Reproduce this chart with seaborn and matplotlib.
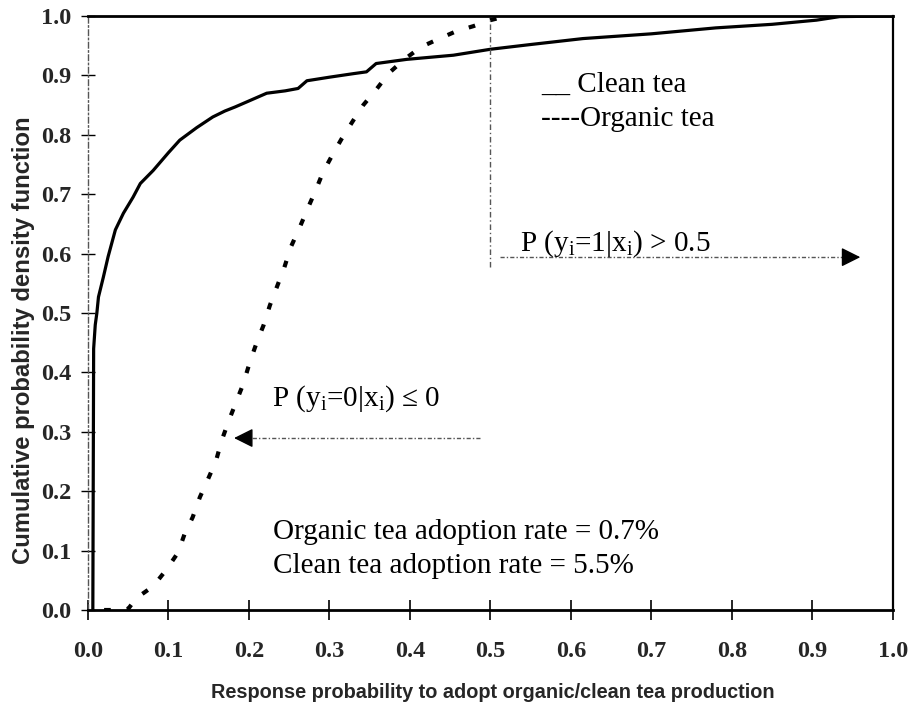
import matplotlib
matplotlib.use("Agg")
import matplotlib.pyplot as plt
import seaborn as sns
import pandas as pd
from matplotlib import font_manager as fm

# ---------------- data ----------------
clean_x = [0.006, 0.007, 0.009, 0.011, 0.013, 0.019, 0.025, 0.034, 0.044, 0.056,
           0.065, 0.081, 0.100, 0.114, 0.135, 0.155, 0.170, 0.183, 0.200, 0.222,
           0.245, 0.261, 0.272, 0.300, 0.330, 0.346, 0.358, 0.396, 0.454, 0.500,
           0.550, 0.615, 0.700, 0.780, 0.850, 0.905, 0.934, 1.000]
clean_y = [0.000, 0.440, 0.480, 0.500, 0.527, 0.560, 0.595, 0.640, 0.668, 0.695,
           0.718, 0.740, 0.770, 0.791, 0.812, 0.830, 0.840, 0.847, 0.857, 0.870,
           0.874, 0.878, 0.891, 0.897, 0.903, 0.906, 0.920, 0.927, 0.934, 0.944,
           0.952, 0.962, 0.970, 0.980, 0.986, 0.993, 0.999, 1.000]

organic_x = [0.020, 0.035, 0.050, 0.060, 0.081, 0.098, 0.112, 0.120, 0.130, 0.139,
             0.149, 0.159, 0.166, 0.175, 0.184, 0.193, 0.201, 0.209, 0.218, 0.226,
             0.235, 0.244, 0.252, 0.263, 0.273, 0.283, 0.292, 0.304, 0.315, 0.329,
             0.342, 0.358, 0.374, 0.393, 0.414, 0.435, 0.457, 0.479, 0.500, 0.520]
organic_y = [0.000, 0.000, 0.002, 0.020, 0.040, 0.069, 0.097, 0.128, 0.156, 0.190,
             0.220, 0.251, 0.285, 0.319, 0.350, 0.381, 0.417, 0.448, 0.479, 0.513,
             0.545, 0.577, 0.611, 0.644, 0.676, 0.707, 0.737, 0.767, 0.793, 0.823,
             0.850, 0.876, 0.904, 0.927, 0.948, 0.961, 0.974, 0.983, 0.993, 1.000]

x_ticks = [0.0, 0.1, 0.2, 0.3, 0.4, 0.5, 0.6, 0.7, 0.8, 0.9, 1.0]
y_ticks = [0.0, 0.1, 0.2, 0.3, 0.4, 0.5, 0.6, 0.7, 0.8, 0.9, 1.0]
tick_labels = ["0.0", "0.1", "0.2", "0.3", "0.4", "0.5", "0.6", "0.7", "0.8", "0.9", "1.0"]

x_label = "Response probability to adopt organic/clean tea production"
y_label = "Cumulative probability density function"
legend_clean = "__ Clean tea"
legend_organic = "----Organic tea"
note_right = r"P (y$_\mathregular{i}$=1|x$_\mathregular{i}$) > 0.5"
note_left = r"P (y$_\mathregular{i}$=0|x$_\mathregular{i}$) ≤ 0"
rate_organic = "Organic tea adoption rate = 0.7%"
rate_clean = "Clean tea adoption rate = 5.5%"

threshold = 0.5
right_arrow = dict(y=0.594, x0=0.512, x1=0.963)
left_arrow = dict(y=0.2895, x0=0.487, x1=0.178)
vline_ymin = 0.577

# ---------------- style ----------------
sns.set_theme(style="white")
names = {f.name for f in fm.fontManager.ttflist}
serif = "Liberation Serif" if "Liberation Serif" in names else "DejaVu Serif"
sans = "Liberation Sans" if "Liberation Sans" in names else "DejaVu Sans"
plt.rcParams["font.family"] = [serif, "DejaVu Serif"]
plt.rcParams["mathtext.fontset"] = "custom"
plt.rcParams["mathtext.rm"] = serif

fig = plt.figure(figsize=(9.12, 7.08), dpi=100)
ax = fig.add_axes([0.0965, 0.1384, 0.8825, 0.839])

df_clean = pd.DataFrame({"x": clean_x, "y": clean_y})
df_org = pd.DataFrame({"x": organic_x, "y": organic_y})

sns.lineplot(data=df_clean, x="x", y="y", ax=ax, sort=False, estimator=None,
             color="black", linewidth=2.3)
sns.lineplot(data=df_org, x="x", y="y", ax=ax, sort=False, estimator=None,
             color="black", linewidth=3.0, linestyle=(0, (1.6, 3.8)))

ax.set_xlim(0, 1)
ax.set_ylim(0, 1)
ax.set_xticks(x_ticks)
ax.set_xticklabels(tick_labels)
ax.set_yticks(y_ticks)
ax.set_yticklabels(tick_labels)
for lab in ax.get_xticklabels() + ax.get_yticklabels():
    lab.set_fontfamily([serif, "DejaVu Serif"])
    lab.set_fontweight("bold")
    lab.set_fontsize(17.5)

ax.tick_params(axis="x", direction="inout", length=14, width=1.2, color="black",
               pad=15, bottom=True)
ax.tick_params(axis="y", direction="inout", length=10, width=1.0, color="black",
               pad=7, left=True)

ax.set_xlabel(x_label, fontfamily=[sans, "DejaVu Sans"], fontsize=14.3,
              fontweight="bold")
ax.set_ylabel(y_label, fontfamily=[sans, "DejaVu Sans"], fontsize=17.2,
              fontweight="bold")
ax.xaxis.set_label_coords(0.503, -0.123)
ax.yaxis.set_label_coords(-0.066, 0.455)

for side in ["top", "bottom"]:
    ax.spines[side].set_color("black")
    ax.spines[side].set_linewidth(2.0)
ax.spines["right"].set_color("black")
ax.spines["right"].set_linewidth(1.6)
ax.spines["left"].set_color("#555555")
ax.spines["left"].set_linewidth(1.0)
ax.spines["left"].set_linestyle((0, (4, 2, 1, 2)))

# threshold vertical line
ax.plot([threshold, threshold], [vline_ymin, 1.0], color="#555555", lw=1.0,
        linestyle=(0, (4, 2, 1, 2)))

# arrows
head = dict(arrowstyle="-|>,head_length=0.9,head_width=0.45",
            color="black", lw=1, mutation_scale=13)
ax.plot([right_arrow["x0"], right_arrow["x1"] - 0.01], [right_arrow["y"]] * 2,
        color="#555555", lw=1.0, linestyle=(0, (3, 1.5, 1, 1.5)))
ax.annotate("", xy=(right_arrow["x1"], right_arrow["y"]),
            xytext=(right_arrow["x1"] - 0.02, right_arrow["y"]), arrowprops=head)
ax.plot([left_arrow["x0"], left_arrow["x1"] + 0.01], [left_arrow["y"]] * 2,
        color="#555555", lw=1.0, linestyle=(0, (3, 1.5, 1, 1.5)))
ax.annotate("", xy=(left_arrow["x1"], left_arrow["y"]),
            xytext=(left_arrow["x1"] + 0.02, left_arrow["y"]), arrowprops=head)

txt = dict(fontfamily=[serif, "DejaVu Serif"], fontsize=21, color="black",
           ha="left", va="baseline")
ax.text(0.563, 0.873, legend_clean, **txt)
ax.text(0.563, 0.815, legend_organic, **txt)
ax.text(0.537, 0.605, note_right, **txt)
ax.text(0.228, 0.344, note_left, **txt)
ax.text(0.230, 0.120, rate_organic, **txt)
ax.text(0.230, 0.063, rate_clean, **txt)

fig.savefig("out.png", dpi=100)
